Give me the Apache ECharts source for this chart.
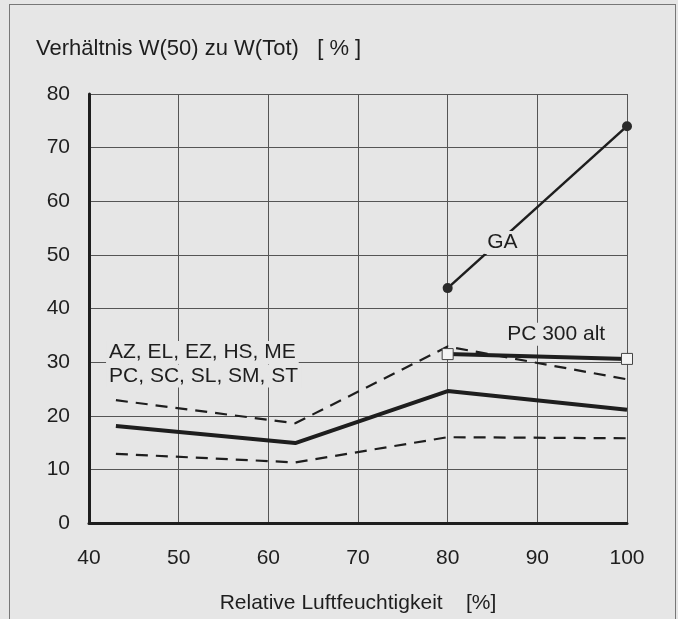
<!DOCTYPE html>
<html>
<head>
<meta charset="utf-8">
<script src="https://cdn.jsdelivr.net/npm/echarts@6/dist/echarts.min.js"></script>
<style>
html,body{margin:0;padding:0;background:#e6e6e6;}
#frame{position:absolute;left:9px;top:4px;width:667px;height:640px;border:1px solid #777;box-sizing:border-box;}
#chart{position:absolute;left:0;top:0;width:678px;height:619px;}
</style>
</head>
<body>
<div id="frame"></div>
<div id="chart"></div>
<script>
const xTicks = [40, 50, 60, 70, 80, 90, 100];
const yTicks = [0, 10, 20, 30, 40, 50, 60, 70, 80];
const humidity = [43, 63, 80, 100];
const meanGroup = [18.1, 14.9, 24.6, 21.1];
const upperGroup = [22.9, 18.6, 32.9, 26.8];
const lowerGroup = [12.9, 11.3, 16.0, 15.8];
const gaHumidity = [80, 100];
const gaValues = [43.8, 74.0];
const pcAltHumidity = [80, 100];
const pcAltValues = [31.5, 30.6];
const bg = '#e6e6e6';
const ink = '#1e1e1e';
const font = 'Liberation Sans, Arial, sans-serif';
const fs = 21;

function pairs(xs, ys){ return xs.map((x,i)=>[x, ys[i]]); }

const chart = echarts.init(document.getElementById('chart'));
const option = {
  backgroundColor: 'transparent',
  animation: false,
  title: {
    text: 'Verhältnis W(50) zu W(Tot)   [ % ]',
    left: 31, top: 33,
    textStyle: {fontFamily: font, fontSize: 22, fontWeight: 'normal', color: ink}
  },
  grid: {left: 89, right: 51, top: 94, bottom: 96},
  xAxis: {
    type: 'value', min: xTicks[0], max: xTicks[xTicks.length-1], interval: 10,
    name: 'Relative Luftfeuchtigkeit    [%]', nameLocation: 'middle', nameGap: 70,
    nameTextStyle: {fontFamily: font, fontSize: fs, color: ink},
    axisLine: {lineStyle: {color: ink, width: 3}},
    axisTick: {show: false},
    axisLabel: {fontFamily: font, fontSize: fs, color: ink, margin: 25},
    splitLine: {show: true, lineStyle: {color: '#555', width: 1}}
  },
  yAxis: {
    type: 'value', min: yTicks[0], max: yTicks[yTicks.length-1], interval: 10,
    axisLine: {show: true, lineStyle: {color: ink, width: 3}},
    axisTick: {show: false},
    axisLabel: {fontFamily: font, fontSize: fs, color: ink, margin: 19},
    splitLine: {show: true, lineStyle: {color: '#555', width: 1}}
  },
  series: [
    {type: 'line', data: pairs(humidity, upperGroup), symbol: 'none', z: 3,
     lineStyle: {color: ink, width: 2.2, type: [12, 8]}},
    {type: 'line', data: pairs(humidity, lowerGroup), symbol: 'none', z: 3,
     lineStyle: {color: ink, width: 2.2, type: [12, 8]}},
    {type: 'line', data: pairs(humidity, meanGroup), symbol: 'none', z: 3,
     lineStyle: {color: ink, width: 4}},
    {type: 'line', data: pairs(pcAltHumidity, pcAltValues), symbol: 'rect', symbolSize: 11, z: 4,
     itemStyle: {color: '#f4f4f4', borderColor: '#444', borderWidth: 1},
     lineStyle: {color: ink, width: 4}},
    {type: 'line', data: pairs(gaHumidity, gaValues), symbol: 'circle', symbolSize: 10, z: 4,
     itemStyle: {color: '#2a2a2a'},
     lineStyle: {color: ink, width: 2.5}}
  ]
};
chart.setOption(option);

const labels = [
  {text: 'GA', at: [86.1, 52.3], align: 'center'},
  {text: 'PC 300 alt', at: [92.1, 35.2], align: 'center'},
  {text: 'AZ, EL, EZ, HS, ME', at: [41.9, 31.8], align: 'left'},
  {text: 'PC, SC, SL, SM, ST', at: [41.9, 27.4], align: 'left'}
];
chart.setOption({
  graphic: labels.map(l => {
    const p = chart.convertToPixel({gridIndex: 0}, l.at);
    return {
      type: 'text', x: p[0], y: p[1], z: 10,
      style: {text: l.text, fontFamily: font, fontSize: fs, fill: ink,
              align: l.align, verticalAlign: 'middle',
              backgroundColor: bg, padding: [1, 3]}
    };
  })
});
</script>
</body>
</html>
